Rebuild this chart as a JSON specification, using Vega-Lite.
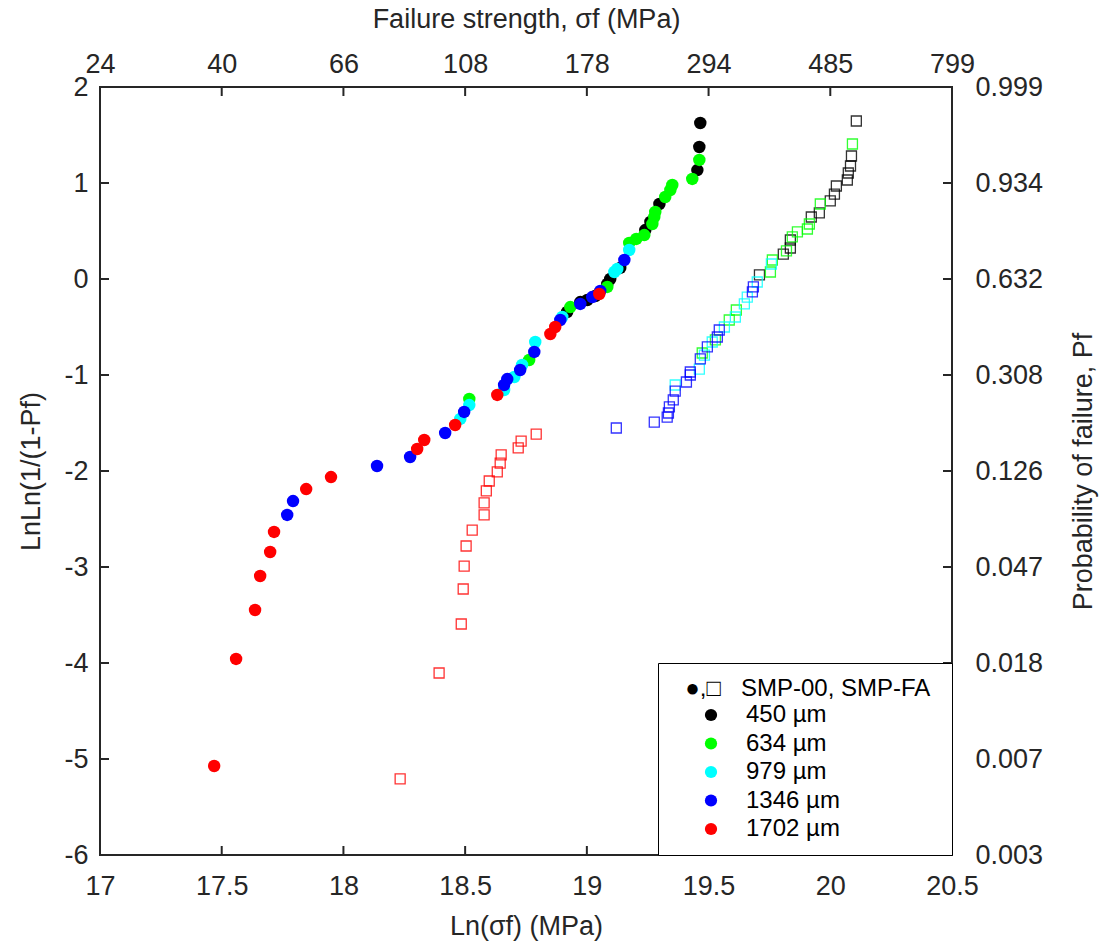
{
  "$schema": "https://vega.github.io/schema/vega-lite/v6.json",
  "width": 852,
  "height": 768,
  "autosize": {"type": "none"},
  "padding": {"left": 100, "top": 87, "right": 157, "bottom": 96},
  "background": "white",
  "config": {
    "view": {"stroke": "#262626", "strokeWidth": 2},
    "font": "Liberation Sans",
    "axis": {
      "domain": false,
      "ticks": false,
      "grid": false,
      "labelFont": "Liberation Sans",
      "labelFontSize": 27,
      "labelColor": "#262626",
      "titleFont": "Liberation Sans",
      "titleFontSize": 27,
      "titleFontWeight": "normal",
      "titleColor": "#262626"
    },
    "legend": {
      "titleFont": "Liberation Sans",
      "labelFont": "Liberation Sans"
    }
  },
  "datasets": {
    "ticksx": [{"v": 17.5}, {"v": 18}, {"v": 18.5}, {"v": 19}, {"v": 19.5}, {"v": 20}],
    "ticksy": [{"v": -5}, {"v": -4}, {"v": -3}, {"v": -2}, {"v": -1}, {"v": 0}, {"v": 1}],
    "circles": [
      {"x": 19.466, "y": 1.625, "g": "450 µm"},
      {"x": 19.462, "y": 1.375, "g": "450 µm"},
      {"x": 19.454, "y": 1.135, "g": "450 µm"},
      {"x": 19.298, "y": 0.781, "g": "450 µm"},
      {"x": 19.261, "y": 0.594, "g": "450 µm"},
      {"x": 19.240, "y": 0.510, "g": "450 µm"},
      {"x": 19.137, "y": 0.115, "g": "450 µm"},
      {"x": 19.096, "y": 0.0, "g": "450 µm"},
      {"x": 19.084, "y": -0.052, "g": "450 µm"},
      {"x": 19.035, "y": -0.177, "g": "450 µm"},
      {"x": 19.002, "y": -0.219, "g": "450 µm"},
      {"x": 18.973, "y": -0.24, "g": "450 µm"},
      {"x": 18.919, "y": -0.344, "g": "450 µm"},
      {"x": 19.462, "y": 1.24, "g": "634 µm"},
      {"x": 19.433, "y": 1.042, "g": "634 µm"},
      {"x": 19.351, "y": 0.979, "g": "634 µm"},
      {"x": 19.343, "y": 0.927, "g": "634 µm"},
      {"x": 19.322, "y": 0.854, "g": "634 µm"},
      {"x": 19.281, "y": 0.698, "g": "634 µm"},
      {"x": 19.277, "y": 0.646, "g": "634 µm"},
      {"x": 19.269, "y": 0.573, "g": "634 µm"},
      {"x": 19.236, "y": 0.458, "g": "634 µm"},
      {"x": 19.203, "y": 0.417, "g": "634 µm"},
      {"x": 19.174, "y": 0.375, "g": "634 µm"},
      {"x": 19.084, "y": -0.083, "g": "634 µm"},
      {"x": 18.932, "y": -0.292, "g": "634 µm"},
      {"x": 18.763, "y": -0.844, "g": "634 µm"},
      {"x": 18.517, "y": -1.25, "g": "634 µm"},
      {"x": 19.174, "y": 0.302, "g": "979 µm"},
      {"x": 19.125, "y": 0.104, "g": "979 µm"},
      {"x": 19.113, "y": 0.073, "g": "979 µm"},
      {"x": 18.899, "y": -0.396, "g": "979 µm"},
      {"x": 18.788, "y": -0.656, "g": "979 µm"},
      {"x": 18.734, "y": -0.896, "g": "979 µm"},
      {"x": 18.702, "y": -1.021, "g": "979 µm"},
      {"x": 18.660, "y": -1.156, "g": "979 µm"},
      {"x": 18.517, "y": -1.313, "g": "979 µm"},
      {"x": 18.480, "y": -1.458, "g": "979 µm"},
      {"x": 19.154, "y": 0.198, "g": "1346 µm"},
      {"x": 19.055, "y": -0.125, "g": "1346 µm"},
      {"x": 19.022, "y": -0.188, "g": "1346 µm"},
      {"x": 18.973, "y": -0.260, "g": "1346 µm"},
      {"x": 18.891, "y": -0.427, "g": "1346 µm"},
      {"x": 18.784, "y": -0.760, "g": "1346 µm"},
      {"x": 18.726, "y": -0.948, "g": "1346 µm"},
      {"x": 18.673, "y": -1.042, "g": "1346 µm"},
      {"x": 18.660, "y": -1.104, "g": "1346 µm"},
      {"x": 18.496, "y": -1.385, "g": "1346 µm"},
      {"x": 18.418, "y": -1.604, "g": "1346 µm"},
      {"x": 18.274, "y": -1.854, "g": "1346 µm"},
      {"x": 18.138, "y": -1.948, "g": "1346 µm"},
      {"x": 17.793, "y": -2.313, "g": "1346 µm"},
      {"x": 17.769, "y": -2.458, "g": "1346 µm"},
      {"x": 19.051, "y": -0.156, "g": "1702 µm"},
      {"x": 18.870, "y": -0.5, "g": "1702 µm"},
      {"x": 18.850, "y": -0.573, "g": "1702 µm"},
      {"x": 18.632, "y": -1.208, "g": "1702 µm"},
      {"x": 18.459, "y": -1.521, "g": "1702 µm"},
      {"x": 18.332, "y": -1.677, "g": "1702 µm"},
      {"x": 18.303, "y": -1.771, "g": "1702 µm"},
      {"x": 17.949, "y": -2.063, "g": "1702 µm"},
      {"x": 17.847, "y": -2.188, "g": "1702 µm"},
      {"x": 17.715, "y": -2.635, "g": "1702 µm"},
      {"x": 17.699, "y": -2.844, "g": "1702 µm"},
      {"x": 17.658, "y": -3.094, "g": "1702 µm"},
      {"x": 17.637, "y": -3.448, "g": "1702 µm"},
      {"x": 17.559, "y": -3.958, "g": "1702 µm"},
      {"x": 17.469, "y": -5.073, "g": "1702 µm"}
    ],
    "squares": [
      {"x": 20.107, "y": 1.646, "g": "450 µm"},
      {"x": 20.087, "y": 1.281, "g": "450 µm"},
      {"x": 20.083, "y": 1.177, "g": "450 µm"},
      {"x": 20.074, "y": 1.104, "g": "450 µm"},
      {"x": 20.070, "y": 1.031, "g": "450 µm"},
      {"x": 20.025, "y": 0.969, "g": "450 µm"},
      {"x": 20.017, "y": 0.885, "g": "450 µm"},
      {"x": 20.0, "y": 0.813, "g": "450 µm"},
      {"x": 19.955, "y": 0.688, "g": "450 µm"},
      {"x": 19.922, "y": 0.646, "g": "450 µm"},
      {"x": 19.836, "y": 0.406, "g": "450 µm"},
      {"x": 19.836, "y": 0.323, "g": "450 µm"},
      {"x": 19.807, "y": 0.260, "g": "450 µm"},
      {"x": 19.709, "y": 0.042, "g": "450 µm"},
      {"x": 20.091, "y": 1.406, "g": "634 µm"},
      {"x": 19.959, "y": 0.781, "g": "634 µm"},
      {"x": 19.914, "y": 0.573, "g": "634 µm"},
      {"x": 19.906, "y": 0.521, "g": "634 µm"},
      {"x": 19.865, "y": 0.490, "g": "634 µm"},
      {"x": 19.844, "y": 0.438, "g": "634 µm"},
      {"x": 19.820, "y": 0.292, "g": "634 µm"},
      {"x": 19.762, "y": 0.198, "g": "634 µm"},
      {"x": 19.754, "y": 0.073, "g": "634 µm"},
      {"x": 19.614, "y": -0.323, "g": "634 µm"},
      {"x": 19.585, "y": -0.427, "g": "634 µm"},
      {"x": 19.528, "y": -0.635, "g": "634 µm"},
      {"x": 19.474, "y": -0.771, "g": "634 µm"},
      {"x": 19.758, "y": 0.156, "g": "979 µm"},
      {"x": 19.700, "y": -0.031, "g": "979 µm"},
      {"x": 19.659, "y": -0.188, "g": "979 µm"},
      {"x": 19.647, "y": -0.26, "g": "979 µm"},
      {"x": 19.610, "y": -0.396, "g": "979 µm"},
      {"x": 19.565, "y": -0.5, "g": "979 µm"},
      {"x": 19.515, "y": -0.656, "g": "979 µm"},
      {"x": 19.483, "y": -0.792, "g": "979 µm"},
      {"x": 19.462, "y": -0.938, "g": "979 µm"},
      {"x": 19.363, "y": -1.104, "g": "979 µm"},
      {"x": 19.684, "y": -0.083, "g": "1346 µm"},
      {"x": 19.680, "y": -0.135, "g": "1346 µm"},
      {"x": 19.544, "y": -0.531, "g": "1346 µm"},
      {"x": 19.536, "y": -0.604, "g": "1346 µm"},
      {"x": 19.495, "y": -0.708, "g": "1346 µm"},
      {"x": 19.466, "y": -0.833, "g": "1346 µm"},
      {"x": 19.425, "y": -0.969, "g": "1346 µm"},
      {"x": 19.425, "y": -1.0, "g": "1346 µm"},
      {"x": 19.409, "y": -1.073, "g": "1346 µm"},
      {"x": 19.363, "y": -1.167, "g": "1346 µm"},
      {"x": 19.355, "y": -1.260, "g": "1346 µm"},
      {"x": 19.339, "y": -1.333, "g": "1346 µm"},
      {"x": 19.335, "y": -1.396, "g": "1346 µm"},
      {"x": 19.330, "y": -1.438, "g": "1346 µm"},
      {"x": 19.277, "y": -1.490, "g": "1346 µm"},
      {"x": 19.121, "y": -1.552, "g": "1346 µm"},
      {"x": 18.792, "y": -1.615, "g": "1702 µm"},
      {"x": 18.730, "y": -1.688, "g": "1702 µm"},
      {"x": 18.718, "y": -1.76, "g": "1702 µm"},
      {"x": 18.648, "y": -1.833, "g": "1702 µm"},
      {"x": 18.644, "y": -1.917, "g": "1702 µm"},
      {"x": 18.632, "y": -2.010, "g": "1702 µm"},
      {"x": 18.599, "y": -2.104, "g": "1702 µm"},
      {"x": 18.587, "y": -2.208, "g": "1702 µm"},
      {"x": 18.578, "y": -2.333, "g": "1702 µm"},
      {"x": 18.578, "y": -2.458, "g": "1702 µm"},
      {"x": 18.529, "y": -2.615, "g": "1702 µm"},
      {"x": 18.504, "y": -2.781, "g": "1702 µm"},
      {"x": 18.496, "y": -2.990, "g": "1702 µm"},
      {"x": 18.492, "y": -3.229, "g": "1702 µm"},
      {"x": 18.484, "y": -3.594, "g": "1702 µm"},
      {"x": 18.393, "y": -4.104, "g": "1702 µm"},
      {"x": 18.233, "y": -5.208, "g": "1702 µm"}
    ]
  },
  "layer": [
    {
      "data": {"name": "circles"},
      "mark": {"type": "circle", "size": 155, "opacity": 1},
      "encoding": {
        "x": {
          "field": "x", "type": "quantitative",
          "scale": {"domain": [17, 20.5], "nice": false, "zero": false},
          "axis": {
            "orient": "bottom",
            "title": "Ln(σf) (MPa)",
            "values": [17, 17.5, 18, 18.5, 19, 19.5, 20, 20.5],
            "format": ".1~f",
            "labelPadding": 18,
            "titlePadding": 14,
            "labelFlush": false
          }
        },
        "y": {
          "field": "y", "type": "quantitative",
          "scale": {"domain": [-6, 2], "nice": false, "zero": false},
          "axis": {
            "orient": "left",
            "title": "LnLn(1/(1-Pf)",
            "values": [-6, -5, -4, -3, -2, -1, 0, 1, 2],
            "labelExpr": "'' + datum.value",
            "labelPadding": 12,
            "titlePadding": 18,
            "labelFlush": false
          }
        },
        "color": {
          "field": "g", "type": "nominal",
          "scale": {
            "domain": ["450 µm", "634 µm", "979 µm", "1346 µm", "1702 µm"],
            "range": ["#000000", "#00ff00", "#00ffff", "#0000ff", "#ff0000"]
          },
          "legend": {
            "orient": "bottom-right",
            "offset": 0,
            "title": "\u200b\u00a0\u00a0●,□\u00a0\u00a0\u00a0SMP-00, SMP-FA\u00a0\u200b",
            "titleFontSize": 24,
            "titleFontWeight": "normal",
            "titleColor": "#000000",
            "titleLimit": 500,
            "titlePadding": 2,
            "labelFontSize": 24,
            "labelColor": "#000000",
            "symbolSize": 150,
            "symbolType": "circle",
            "symbolOffset": 27,
            "labelOffset": 23,
            "rowPadding": 4.5,
            "padding": 14,
            "strokeColor": "#000000",
            "fillColor": "#ffffff",
            "encode": {"legend": {"update": {"strokeWidth": {"value": 2}}}}
          }
        }
      }
    },
    {
      "data": {"name": "squares"},
      "mark": {"type": "square", "filled": false, "size": 100, "strokeWidth": 1.3, "opacity": 0.8},
      "encoding": {
        "x": {
          "field": "x", "type": "quantitative",
          "scale": {"domain": [17, 20.5], "nice": false, "zero": false},
          "axis": {
            "orient": "top",
            "title": "Failure strength, σf (MPa)",
            "values": [17, 17.5, 18, 18.5, 19, 19.5, 20, 20.5],
            "labelExpr": "datum.value >= 20.5 ? '799' : format(exp(datum.value)/1000000, '.0f')",
            "labelPadding": 9,
            "titlePadding": 17,
            "labelFlush": false
          }
        },
        "y": {
          "field": "y", "type": "quantitative",
          "scale": {"domain": [-6, 2], "nice": false, "zero": false},
          "axis": {
            "orient": "right",
            "title": "Probability of failure, Pf",
            "titleAngle": -90,
            "titleBaseline": "top",
            "values": [-6, -5, -4, -3, -2, -1, 0, 1, 2],
            "labelExpr": "datum.value == 2 ? '0.999' : datum.value == 1 ? '0.934' : datum.value == 0 ? '0.632' : datum.value == -1 ? '0.308' : datum.value == -2 ? '0.126' : datum.value == -3 ? '0.047' : datum.value == -4 ? '0.018' : datum.value == -5 ? '0.007' : '0.003'",
            "labelPadding": 23,
            "titlePadding": 28,
            "labelFlush": false
          }
        },
        "color": {"field": "g", "type": "nominal", "legend": null}
      }
    },
    {
      "data": {"name": "ticksx"},
      "mark": {"type": "tick", "orient": "vertical", "size": 9, "thickness": 2, "color": "#262626", "opacity": 1, "yOffset": -4.5},
      "encoding": {
        "x": {"field": "v", "type": "quantitative", "axis": null},
        "y": {"datum": -6, "type": "quantitative", "axis": null}
      }
    },
    {
      "data": {"name": "ticksx"},
      "mark": {"type": "tick", "orient": "vertical", "size": 9, "thickness": 2, "color": "#262626", "opacity": 1, "yOffset": 4.5},
      "encoding": {
        "x": {"field": "v", "type": "quantitative", "axis": null},
        "y": {"datum": 2, "type": "quantitative", "axis": null}
      }
    },
    {
      "data": {"name": "ticksy"},
      "mark": {"type": "tick", "orient": "horizontal", "size": 9, "thickness": 2, "color": "#262626", "opacity": 1, "xOffset": 4.5},
      "encoding": {
        "y": {"field": "v", "type": "quantitative", "axis": null},
        "x": {"datum": 17, "type": "quantitative", "axis": null}
      }
    },
    {
      "data": {"name": "ticksy"},
      "mark": {"type": "tick", "orient": "horizontal", "size": 9, "thickness": 2, "color": "#262626", "opacity": 1, "xOffset": -4.5},
      "encoding": {
        "y": {"field": "v", "type": "quantitative", "axis": null},
        "x": {"datum": 20.5, "type": "quantitative", "axis": null}
      }
    }
  ],
  "resolve": {
    "axis": {"x": "independent", "y": "independent"},
    "legend": {"color": "independent"}
  }
}
